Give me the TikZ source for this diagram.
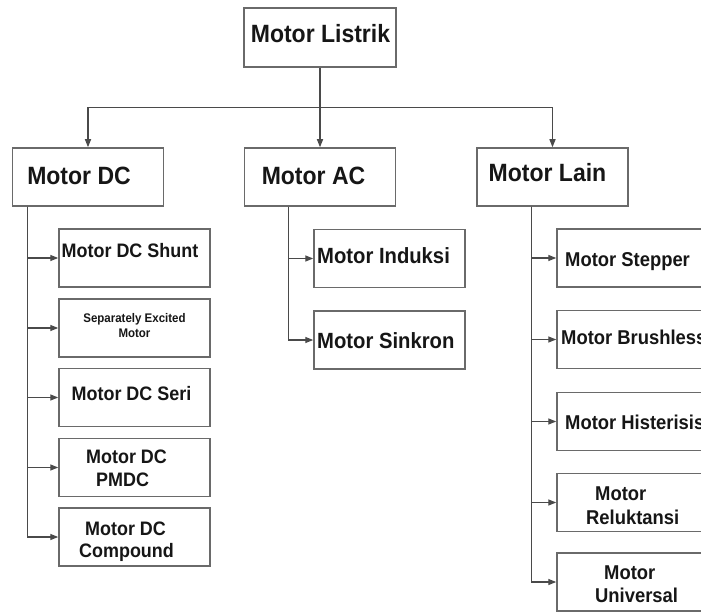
\documentclass[tikz,border=0pt]{standalone}
\usepackage{fontspec}
\newfontfamily\lblfont{Liberation Sans}[FakeStretch=0.92]
\usetikzlibrary{arrows.meta,calc}
\definecolor{boxgray}{HTML}{6A6A6A}
\definecolor{linkgray}{HTML}{4A4A4A}
\definecolor{inkblack}{HTML}{161616}

\begin{document}
\begin{tikzpicture}[x=1pt,y=-1pt,
  box/.style={draw=boxgray, line width=1.5pt, fill=white, inner sep=0pt,
              minimum width=151pt, minimum height=58pt},
  link/.style={draw=linkgray, line width=1.4pt,
               -{Triangle[length=8pt,width=6pt]}},
  lbl/.style={inner sep=0pt, text=inkblack, font=\lblfont\bfseries},
  topfont/.style={lbl, font=\lblfont\bfseries\fontsize{25}{30}\selectfont},
  dcfont/.style={lbl, font=\lblfont\bfseries\fontsize{19.5}{23}\selectfont},
  smallfont/.style={lbl, font=\lblfont\bfseries\fontsize{12.5}{15}\selectfont},
  acfont/.style={lbl, font=\lblfont\bfseries\fontsize{22}{26}\selectfont},
  otherfont/.style={lbl, font=\lblfont\bfseries\fontsize{20}{24}\selectfont}]
\useasboundingbox (0,0) rectangle (701,612);
\clip (0,0) rectangle (701,612);
\fill[white] (0,0) rectangle (701,612);

% root
\node[box, minimum width=152pt, minimum height=59pt] (root) at (320,37.5) {};
\node[topfont, anchor=base] (root-t) at (320.5,43) {Motor Listrik};

% first level
\node[box] (dc)    at (88,177)    {};
\node[box] (ac)    at (320,177)   {};
\node[box] (other) at (552.5,177) {};
\node[topfont, anchor=base] (dc-t)    at (79,185)    {Motor DC};
\node[topfont, anchor=base] (ac-t)    at (313.5,185) {Motor AC};
\node[topfont, anchor=base] (other-t) at (547.5,182) {Motor Lain};

% DC motors
\node[box] (shunt)    at (134.5,258)   {};
\node[box] (sepexc)   at (134.5,328)   {};
\node[box] (seri)     at (134.5,397.5) {};
\node[box] (pmdc)     at (134.5,467.5) {};
\node[box] (compound) at (134.5,537)   {};
\node[dcfont, anchor=base] (shunt-t) at (130,258) {Motor DC Shunt};
\node[smallfont, anchor=base] (sepexc-t1) at (134.5,322.5) {Separately Excited};
\node[smallfont, anchor=base] (sepexc-t2) at (134.5,337) {Motor};
\node[dcfont, anchor=base] (seri-t) at (131.5,400) {Motor DC Seri};
\node[dcfont, anchor=base west] (pmdc-t1) at (86,463.5) {Motor DC};
\node[dcfont, anchor=base west] (pmdc-t2) at (96,486.5) {PMDC};
\node[dcfont, anchor=base west] (compound-t1) at (85,535) {Motor DC};
\node[dcfont, anchor=base west] (compound-t2) at (79,557) {Compound};

% AC motors
\node[box] (induksi) at (389.5,258.5) {};
\node[box] (sinkron) at (389.5,340)   {};
\node[acfont, anchor=base west] (induksi-t) at (317,263.5) {Motor Induksi};
\node[acfont, anchor=base west] (sinkron-t) at (317,348) {Motor Sinkron};

% other motors
\node[box] (stepper)    at (632.5,258)   {};
\node[box] (brushless)  at (632.5,339.5) {};
\node[box] (histerisis) at (632.5,421.5) {};
\node[box] (reluktansi) at (632.5,502.5) {};
\node[box] (universal)  at (632.5,582)   {};
\node[otherfont, anchor=base west] (stepper-t)    at (565,266) {Motor Stepper};
\node[otherfont, anchor=base west] (brushless-t)  at (561,344) {Motor Brushless};
\node[otherfont, anchor=base west] (histerisis-t) at (565,429.5) {Motor Histerisis};
\node[otherfont, anchor=base west] (reluktansi-t1) at (595,500) {Motor};
\node[otherfont, anchor=base west] (reluktansi-t2) at (586,524) {Reluktansi};
\node[otherfont, anchor=base west] (universal-t1) at (604,579.5) {Motor};
\node[otherfont, anchor=base west] (universal-t2) at (595,602.5) {Universal};

% root to first level
\coordinate (bus) at ($(root.south)+(0,40)$);
\draw[link] (root.south) -- (bus) -| (dc.north);
\draw[link] (root.south) -- (ac.north);
\draw[link] (bus) -| (other.north);

% trunks under the first level
\coordinate (dc-trunk)    at ($(dc.south west)+(16,0)$);
\coordinate (ac-trunk)    at ($(ac.south west)+(44.5,0)$);
\coordinate (other-trunk) at ($(other.south west)+(55.5,0)$);

\foreach \c in {shunt,sepexc,seri,pmdc,compound}
  \draw[link] (dc-trunk) |- (\c.west);
\foreach \c in {induksi,sinkron}
  \draw[link] (ac-trunk) |- (\c.west);
\foreach \c in {stepper,brushless,histerisis,reluktansi,universal}
  \draw[link] (other-trunk) |- (\c.west);
\end{tikzpicture}
\end{document}
